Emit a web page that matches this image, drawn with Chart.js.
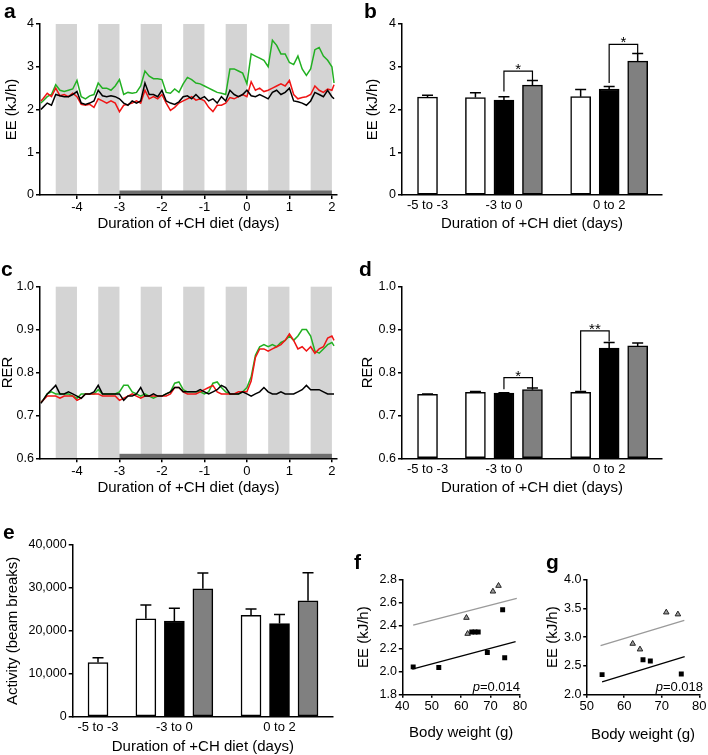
<!DOCTYPE html>
<html><head><meta charset="utf-8">
<script src="https://cdn.jsdelivr.net/npm/chart.js@4.4.1/dist/chart.umd.min.js"></script>
<style>
html,body{margin:0;padding:0;background:#fff;}
#fig{position:relative;width:708px;height:755px;overflow:hidden;background:#fff;}
#fig canvas{position:absolute;}
.pl{position:absolute;z-index:5;font:bold 21px/21px "Liberation Sans",Arial,sans-serif;color:#000;}
</style></head><body>
<div id="fig">
<div class="pl" style="left:4px;top:0px">a</div>
<div class="pl" style="left:364px;top:0px">b</div>
<div class="pl" style="left:1px;top:258px">c</div>
<div class="pl" style="left:359px;top:258px">d</div>
<div class="pl" style="left:3px;top:521px">e</div>
<div class="pl" style="left:354px;top:551px">f</div>
<div class="pl" style="left:546px;top:551px">g</div>
</div>
<script>
const FONT = '"Liberation Sans", Arial, Helvetica, sans-serif';
const fig = document.getElementById('fig');

// ---------------- data: time courses (panels a, c) ----------------
const days = [-4.85,
 -4.8,-4.7,-4.6,-4.5,-4.4,-4.3,-4.2,-4.1,-4.0,
 -3.9,-3.8,-3.7,-3.6,-3.5,-3.4,-3.3,-3.2,-3.1,-3.0,
 -2.9,-2.8,-2.7,-2.6,-2.5,-2.4,-2.3,-2.2,-2.1,-2.0,
 -1.9,-1.8,-1.7,-1.6,-1.5,-1.4,-1.3,-1.2,-1.1,-1.0,
 -0.9,-0.8,-0.7,-0.6,-0.5,-0.4,-0.3,-0.2,-0.1,0.0,
 0.1,0.2,0.3,0.4,0.5,0.6,0.7,0.8,0.9,1.0,
 1.1,1.2,1.3,1.4,1.5,1.6,1.7,1.8,1.9,2.0,
 2.05];
const eeGreen = [2.15,
 2.2,2.3,2.35,2.58,2.45,2.42,2.45,2.48,2.68,
 2.3,2.25,2.32,2.35,2.62,2.5,2.5,2.45,2.55,2.7,
 2.35,2.4,2.38,2.4,2.55,2.9,2.78,2.72,2.72,2.7,
 2.4,2.38,2.48,2.4,2.6,2.75,2.7,2.62,2.6,2.55,
 2.5,2.45,2.4,2.38,2.35,2.95,2.95,2.9,2.85,2.6,
 3.3,3.25,3.2,3.15,3.0,3.62,3.5,3.3,3.3,3.1,
 3.05,3.25,2.95,2.8,2.95,3.4,3.45,3.25,3.15,3.0,
 2.62];
const eeRed = [2.2,
 2.25,2.38,2.3,2.5,2.32,2.35,2.3,2.38,2.3,
 2.12,2.1,2.12,2.05,2.25,2.2,2.15,2.2,2.15,1.95,
 2.1,2.12,2.15,2.2,2.15,2.45,2.25,2.3,2.25,2.35,
 2.15,1.98,2.05,2.15,2.2,2.25,2.3,2.22,2.25,2.2,
 2.05,1.95,2.1,2.1,2.15,2.28,2.25,2.3,2.35,2.3,
 2.65,2.45,2.5,2.42,2.45,2.5,2.55,2.6,2.55,2.68,
 2.35,2.25,2.28,2.3,2.35,2.55,2.45,2.4,2.48,2.45,
 2.58];
const eeBlack = [2.0,
 2.05,2.15,2.1,2.35,2.32,2.3,2.3,2.35,2.42,
 2.15,2.12,2.15,2.2,2.45,2.32,2.3,2.32,2.3,2.25,
 2.15,2.1,2.2,2.15,2.2,2.62,2.35,2.35,2.3,2.45,
 2.2,2.15,2.12,2.18,2.3,2.32,2.25,2.35,2.25,2.3,
 2.2,2.25,2.15,2.3,2.2,2.45,2.35,2.3,2.35,2.45,
 2.32,2.3,2.35,2.3,2.25,2.4,2.45,2.35,2.4,2.5,
 2.2,2.18,2.15,2.1,2.2,2.4,2.35,2.3,2.45,2.3,
 2.25];
const rerGreen = [0.73,
 0.735,0.75,0.755,0.75,0.75,0.75,0.75,0.745,0.74,
 0.75,0.75,0.75,0.75,0.76,0.75,0.75,0.75,0.75,0.755,
 0.77,0.77,0.755,0.75,0.745,0.75,0.745,0.74,0.745,0.745,
 0.75,0.755,0.775,0.778,0.76,0.755,0.755,0.755,0.755,0.75,
 0.755,0.775,0.778,0.765,0.755,0.75,0.75,0.75,0.755,0.765,
 0.79,0.84,0.86,0.865,0.86,0.865,0.86,0.87,0.875,0.885,
 0.875,0.885,0.9,0.9,0.885,0.85,0.845,0.855,0.865,0.87,
 0.862];
const rerRed = [0.73,
 0.735,0.745,0.745,0.745,0.74,0.745,0.745,0.745,0.735,
 0.74,0.75,0.75,0.75,0.75,0.745,0.745,0.745,0.745,0.735,
 0.74,0.745,0.75,0.745,0.74,0.745,0.745,0.745,0.745,0.745,
 0.745,0.75,0.765,0.765,0.755,0.75,0.75,0.75,0.755,0.76,
 0.765,0.77,0.755,0.75,0.75,0.75,0.75,0.755,0.755,0.755,
 0.78,0.835,0.855,0.855,0.85,0.855,0.86,0.865,0.875,0.89,
 0.875,0.855,0.86,0.85,0.86,0.845,0.855,0.86,0.88,0.885,
 0.875];
const rerBlack = [0.728,
 0.735,0.75,0.76,0.77,0.75,0.75,0.755,0.75,0.745,
 0.74,0.75,0.75,0.755,0.77,0.75,0.75,0.75,0.75,0.75,
 0.735,0.745,0.745,0.75,0.765,0.745,0.745,0.75,0.745,0.745,
 0.75,0.755,0.765,0.765,0.755,0.755,0.755,0.755,0.76,0.755,
 0.75,0.755,0.76,0.77,0.765,0.75,0.75,0.75,0.755,0.75,
 0.745,0.75,0.755,0.765,0.755,0.75,0.75,0.755,0.75,0.75,
 0.75,0.755,0.76,0.77,0.76,0.76,0.76,0.755,0.75,0.75,
 0.75];
const darkPhases = [[-4.5,-4],[-3.5,-3],[-2.5,-2],[-1.5,-1],[-0.5,0],[0.5,1],[1.5,2]];
const dietPeriod = [-3, 2];
const dayTicks = [-4,-3,-2,-1,0,1,2];

// ---------------- data: bar panels (b, d, e) ----------------
const periods = ['-5 to -3','-3 to 0','0 to 2'];
const eeWhite = [2.29,2.28,2.30],  eeWhiteErr = [0.045,0.11,0.17];
const eeBlk   = [null,2.22,2.48],  eeBlkErr   = [null,0.08,0.06];
const eeGry   = [null,2.57,3.13],  eeGryErr   = [null,0.11,0.18];
const rerWhite = [0.749,0.754,0.754], rerWhiteErr = [0.001,0.002,0.002];
const rerBlk   = [null,0.752,0.857],  rerBlkErr   = [null,0.001,0.013];
const rerGry   = [null,0.760,0.862],  rerGryErr   = [null,0.004,0.007];
const actWhite = [12600,22800,23600], actWhiteErr = [1150,3250,1480];
const actBlk   = [null,22300,21700],  actBlkErr   = [null,2950,2090];
const actGry   = [null,29800,27000],  actGryErr   = [null,3650,6530];
// significance brackets: [group, fromSeries, toSeries, label, top, leftEnd, rightEnd]
const eeSig  = [[1,'black','grey','*',2.90,2.42,2.69],[2,'black','grey','*',3.525,2.62,3.315]];
const rerSig = [[1,'black','grey','*',0.788,0.761,0.763],[2,'white','black','**',0.897,0.758,0.872]];

// ---------------- data: scatter panels (f, g) ----------------
const fSquares   = [[43.7,2.04],[52.4,2.035],[63.6,2.345],[64.7,2.345],[65.8,2.345],[68.9,2.165],[74.1,2.54],[74.8,2.12]];
const fTriangles = [[61.8,2.47],[62.2,2.33],[70.8,2.70],[72.7,2.75]];
const fFitGrey   = [[43.7,2.405],[78.9,2.64]];
const fFitBlack  = [[43.4,2.02],[78.5,2.26]];
const gSquares   = [[54.1,2.344],[65.0,2.606],[66.95,2.583],[75.2,2.356]];
const gTriangles = [[62.25,2.886],[64.2,2.787],[71.2,3.434],[74.3,3.40]];
const gFitGrey   = [[53.7,2.851],[76.0,3.294]];
const gFitBlack  = [[54.1,2.216],[76.1,2.659]];
const pValues = ['0.014','0.018'];

// ---------------- layout helpers ----------------
const slot = {white:[0,1.68,5.37], black:[null,2.68,6.37], grey:[null,3.68,7.37]};
const labelSlot = [0,2.68,6.37];

function axisStyle(tl){ return {
  grid:{display:tl>0, drawOnChartArea:false, drawTicks:tl>0, tickLength:tl, color:'#000', lineWidth:1.5},
  border:{display:true, color:'#000', width:1.5}
};}
function titleOpt(text, pad){ return {display:true, text, color:'#000', font:{family:FONT,size:15,lineHeight:1}, padding:pad}; }
function fixedTicks(vals){ return s => { s.ticks = vals.map(v=>({value:v})); }; }

function panel(box, area, cfg){
  const cv = document.createElement('canvas');
  cv.width = box.w; cv.height = box.h;
  cv.style.left = box.left+'px'; cv.style.top = box.top+'px';
  cv.style.width = box.w+'px'; cv.style.height = box.h+'px';
  fig.appendChild(cv);
  const yW = area.L - box.left, xH = box.top + box.h - area.B;
  const o = cfg.options;
  o.responsive = false; o.maintainAspectRatio = false; o.animation = false; o.devicePixelRatio = 1;
  o.layout = {padding:{left:0, top:area.T-box.top, right:box.left+box.w-area.R, bottom:0}};
  o.scales.x.afterFit = s => { s.height = xH; s.paddingLeft=0; s.paddingRight=0; s.paddingTop=0; s.paddingBottom=0; };
  o.scales.y.afterFit = s => { s.width = yW; s.paddingLeft=0; s.paddingRight=0; s.paddingTop=0; s.paddingBottom=0; };
  o.plugins = Object.assign({legend:{display:false}, tooltip:{enabled:false}}, o.plugins||{});
  return new Chart(cv, cfg);
}

// ---------------- plugins ----------------
const shadePlugin = {id:'shade', beforeDraw(chart, args, opts){
  const {ctx, chartArea:{top,bottom}, scales:{x}} = chart;
  ctx.save();
  ctx.fillStyle = '#d4d4d4';
  opts.phases.forEach(([s,e])=>{ const x0=x.getPixelForValue(s), x1=x.getPixelForValue(e); ctx.fillRect(x0, top, x1-x0, bottom-top); });
  const d0=x.getPixelForValue(opts.diet[0]), d1=x.getPixelForValue(opts.diet[1]);
  ctx.fillStyle = '#6e6e6e'; ctx.fillRect(d0, bottom-4.5, d1-d0, 4.5);
  ctx.restore();
}};

const errPlugin = {id:'errs', afterDatasetsDraw(chart, args, opts){
  const {ctx, scales:{x,y}} = chart;
  ctx.save(); ctx.strokeStyle='#000'; ctx.lineWidth=1.5;
  chart.data.datasets.forEach((ds,di)=>{
    const meta = chart.getDatasetMeta(di);
    meta.data.forEach((el,i)=>{
      const p = ds.data[i]; if(!p || p.err==null) return;
      const yt = y.getPixelForValue(p.y + p.err);
      ctx.beginPath(); ctx.moveTo(el.x, el.y); ctx.lineTo(el.x, yt);
      ctx.moveTo(el.x-5.5, yt); ctx.lineTo(el.x+5.5, yt); ctx.stroke();
    });
  });
  ctx.lineWidth = 1.2; ctx.fillStyle='#000';
  ctx.font = '15px '+FONT; ctx.textAlign='center'; ctx.textBaseline='alphabetic';
  (opts.sig||[]).forEach(([g,a,b,label,top,le,re])=>{
    const x1=x.getPixelForValue(slot[a][g]), x2=x.getPixelForValue(slot[b][g]), yt=y.getPixelForValue(top);
    ctx.beginPath(); ctx.moveTo(x1, y.getPixelForValue(le)); ctx.lineTo(x1, yt); ctx.lineTo(x2, yt); ctx.lineTo(x2, y.getPixelForValue(re)); ctx.stroke();
    ctx.fillText(label, (x1+x2)/2, yt+3);
  });
  ctx.restore();
}};

const pPlugin = {id:'pval', afterDraw(chart, args, opts){
  const {ctx, chartArea} = chart;
  ctx.save(); ctx.fillStyle='#000'; ctx.textBaseline='alphabetic'; ctx.textAlign='left';
  ctx.font = '13px '+FONT; const rest = '='+opts.text; const w2 = ctx.measureText(rest).width;
  ctx.font = 'italic 13px '+FONT; const w1 = ctx.measureText('p').width;
  const xr = chartArea.right + opts.dx, yb = chartArea.bottom - 3.8;
  ctx.fillText('p', xr-w1-w2, yb);
  ctx.font = '13px '+FONT; ctx.fillText(rest, xr-w2, yb);
  ctx.restore();
}};

// ---------------- panel builders ----------------
function timePanel(box, area, series, yMin, yMax, yTicks, yFmt, yTitle, yPad, xPad){
  const colors = ['#000000','#f01414','#22b022'];
  return panel(box, area, {
    type:'line',
    data:{datasets: series.map((s,i)=>({
      data: days.map((d,k)=>({x:d, y:s[k]})),
      borderColor:colors[i], borderWidth:1.5, pointRadius:0, tension:0, fill:false}))},
    options:{
      scales:{
        x:Object.assign({type:'linear', offset:false, min:-4.87, max:2.12, afterBuildTicks:fixedTicks(dayTicks),
          ticks:{color:'#000', font:{family:FONT,size:13}, padding:1, maxRotation:0, autoSkip:false, callback:v=>String(v)},
          title:titleOpt('Duration of +CH diet (days)', {top:0,bottom:xPad})}, axisStyle(4)),
        y:Object.assign({type:'linear', min:yMin, max:yMax, afterBuildTicks:fixedTicks(yTicks),
          ticks:{color:'#000', font:{family:FONT,size:12.5}, padding:2, autoSkip:false, callback:yFmt},
          title:titleOpt(yTitle, {top:yPad,bottom:0})}, axisStyle(4))
      },
      plugins:{shade:{phases:darkPhases, diet:dietPeriod}}
    },
    plugins:[shadePlugin]
  });
}

function barPanel(box, area, xMin, xMax, sets, yMin, yMax, yTicks, yFmt, yTitle, yPad, xPad, sig){
  const colors = {white:'#ffffff', black:'#000000', grey:'#808080'};
  const datasets = Object.keys(sets).map(k=>{
    const [vals, errs] = sets[k];
    const pts = [];
    vals.forEach((v,i)=>{ if(v!=null) pts.push({x:slot[k][i], y:v, err:errs[i]}); });
    return {data:pts, backgroundColor:colors[k], borderColor:'#000', borderWidth:1.5,
            barThickness:20, grouped:false, borderSkipped:false, base:yMin};
  });
  return panel(box, area, {
    type:'bar',
    data:{datasets},
    options:{
      scales:{
        x:Object.assign({type:'linear', offset:false, min:xMin, max:xMax, afterBuildTicks:fixedTicks(labelSlot),
          ticks:{color:'#000', font:{family:FONT,size:13}, padding:3, maxRotation:0, autoSkip:false,
                 callback:(v)=>periods[labelSlot.indexOf(v)]},
          title:titleOpt('Duration of +CH diet (days)', {top:0,bottom:xPad})}, axisStyle(0)),
        y:Object.assign({type:'linear', min:yMin, max:yMax, afterBuildTicks:fixedTicks(yTicks),
          ticks:{color:'#000', font:{family:FONT,size:12.5}, padding:2, autoSkip:false, callback:yFmt},
          title:titleOpt(yTitle, {top:yPad,bottom:0})}, axisStyle(4))
      },
      plugins:{errs:{sig}}
    },
    plugins:[errPlugin]
  });
}

function scatterPanel(box, area, sq, tri, fitG, fitB, xr, xTicks, yr, yTicks, yPad, xPad, ptxt, dx){
  const P = a => a.map(([x,y])=>({x,y}));
  return panel(box, area, {
    type:'scatter',
    data:{datasets:[
      {data:P(sq), pointStyle:'rect', pointRadius:3.5, backgroundColor:'#000', borderColor:'#000', borderWidth:0},
      {data:P(tri), pointStyle:'triangle', pointRadius:3.2, backgroundColor:'#9c9c9c', borderColor:'#222', borderWidth:1},
      {data:P(fitB), showLine:true, borderColor:'#000', borderWidth:1.3, pointRadius:0},
      {data:P(fitG), showLine:true, borderColor:'#9a9a9a', borderWidth:1.3, pointRadius:0}
    ]},
    options:{
      scales:{
        x:Object.assign({type:'linear', min:xr[0], max:xr[1], afterBuildTicks:fixedTicks(xTicks),
          ticks:{color:'#000', font:{family:FONT,size:13}, padding:0.5, maxRotation:0, autoSkip:false, callback:v=>String(v)},
          title:titleOpt('Body weight (g)', {top:0,bottom:xPad})}, axisStyle(3.5)),
        y:Object.assign({type:'linear', min:yr[0], max:yr[1], afterBuildTicks:fixedTicks(yTicks),
          ticks:{color:'#000', font:{family:FONT,size:12.5}, padding:1.8, autoSkip:false, callback:v=>v.toFixed(1)},
          title:titleOpt('EE (kJ/h)', {top:yPad,bottom:0})}, axisStyle(3.5))
      },
      plugins:{pval:{text:ptxt, dx}}
    },
    plugins:[pPlugin]
  });
}

// ---------------- build figure ----------------
const intFmt = v => String(v);
const dec1 = v => v.toFixed(1);

timePanel({left:0,top:0,w:350,h:245}, {L:40,T:24,R:337,B:195},
  [eeBlack, eeRed, eeGreen], 0, 4, [0,1,2,3,4], intFmt, 'EE (kJ/h)', 4.5, 13.5);

barPanel({left:355,top:0,w:353,h:245}, {L:402,T:24,R:662,B:195}, -0.895, 8.223,
  {white:[eeWhite,eeWhiteErr], black:[eeBlk,eeBlkErr], grey:[eeGry,eeGryErr]},
  0, 4, [0,1,2,3,4], intFmt, 'EE (kJ/h)', 10.5, 13.5, eeSig);

timePanel({left:0,top:262,w:350,h:245}, {L:40,T:286.7,R:337,B:458.3},
  [rerBlack, rerRed, rerGreen], 0.6, 1.0, [0.6,0.7,0.8,0.9,1.0], dec1, 'RER', 0, 12);

barPanel({left:355,top:262,w:353,h:245}, {L:402,T:286.7,R:662,B:458.3}, -0.895, 8.223,
  {white:[rerWhite,rerWhiteErr], black:[rerBlk,rerBlkErr], grey:[rerGry,rerGryErr]},
  0.6, 1.0, [0.6,0.7,0.8,0.9,1.0], dec1, 'RER', 5, 12, rerSig);

barPanel({left:0,top:520,w:352,h:235}, {L:72.7,T:545,R:333,B:716.7}, -0.888, 8.247,
  {white:[actWhite,actWhiteErr], black:[actBlk,actBlkErr], grey:[actGry,actGryErr]},
  0, 40000, [0,10000,20000,30000,40000], v=>v.toLocaleString('en-US'), 'Activity (beam breaks)', 5.8, 0.8, []);

scatterPanel({left:340,top:555,w:190,h:200}, {L:402.3,T:580,R:520,B:694.3},
  fSquares, fTriangles, fFitGrey, fFitBlack, [40,80], [40,50,60,70,80], [1.8,2.8], [1.8,2.0,2.2,2.4,2.6,2.8],
  16.5, 15, pValues[0], 0);

scatterPanel({left:532,top:555,w:176,h:200}, {L:586.7,T:580,R:699.3,B:694.3},
  gSquares, gTriangles, gFitGrey, gFitBlack, [50,80], [50,60,70,80], [2.0,4.0], [2.0,2.5,3.0,3.5,4.0],
  13, 12.5, pValues[1], 3.7);
</script>
</body></html>
